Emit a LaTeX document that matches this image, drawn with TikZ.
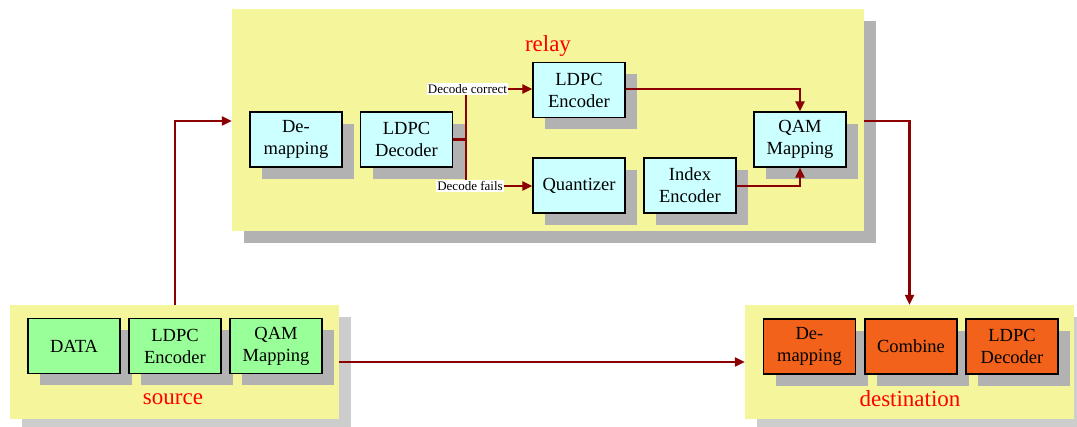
\documentclass[tikz,border=0pt]{standalone}
\usepackage{fontspec}
\setmainfont{Liberation Serif}
\usetikzlibrary{shadows,arrows.meta}
\definecolor{panelyellow}{RGB}{245,245,155}
\definecolor{panelshade}{RGB}{205,205,205}
\definecolor{boxshade}{RGB}{178,178,178}
\definecolor{relaycyan}{RGB}{204,255,255}
\definecolor{srcgreen}{RGB}{153,255,153}
\definecolor{dstorange}{RGB}{242,98,26}
\definecolor{linkred}{RGB}{139,0,0}
\tikzset{
  panel/.style={fill=panelyellow, draw=none, minimum width=#1, minimum height=114pt, inner sep=0pt,
    drop shadow={shadow xshift=12pt, shadow yshift=-12pt, fill=panelshade, opacity=1}},
  darkpanel/.style={fill=panelyellow, draw=none, minimum width=#1, minimum height=221.5pt, inner sep=0pt,
    drop shadow={shadow xshift=12pt, shadow yshift=-12pt, fill=boxshade, opacity=1}},
  blockbox/.style={draw=black, line width=1.2pt, fill=#1, minimum width=92pt, minimum height=55pt,
    align=center, inner sep=0pt, font=\fontsize{18.5}{22}\selectfont,
    drop shadow={shadow xshift=12pt, shadow yshift=-12pt, fill=boxshade, opacity=1}},
  title/.style={text=red, font=\fontsize{23}{26}\selectfont},
  link/.style={draw=linkred, line width=2.2pt, -{Triangle[length=10pt,width=9pt]}},
  plainlink/.style={draw=linkred, line width=2.2pt},
  tag/.style={fill=white, inner sep=1pt, font=\fontsize{13}{14}\selectfont}
}
\begin{document}
\begin{tikzpicture}[x=1pt,y=-1pt]
\useasboundingbox (0,0) rectangle (1077,427);
% panels
\node[darkpanel=632pt] (relay) at (548,120.25) {};
\node[panel=329pt] (src) at (174.5,362) {};
\node[panel=329pt] (dst) at (909.5,362) {};
\node[title] (relaytitle) at (548,46) {relay};
\node[title] (srctitle) at (173,399) {source};
\node[title] (dsttitle) at (910,399) {destination};
% relay blocks
\node[blockbox=relaycyan] (rdm) at (296,139.5) {De-\\mapping};
\node[blockbox=relaycyan] (rdec) at (406.5,139.5) {LDPC\\Decoder};
\node[blockbox=relaycyan] (renc) at (579,90) {LDPC\\Encoder};
\node[blockbox=relaycyan] (rq) at (579,185.5) {Quantizer};
\node[blockbox=relaycyan] (rie) at (690,185.5) {Index\\Encoder};
\node[blockbox=relaycyan] (rqam) at (800,139.5) {QAM\\Mapping};
% source blocks
\node[blockbox=srcgreen] (sdata) at (74,346) {DATA};
\node[blockbox=srcgreen] (senc) at (175,346) {LDPC\\Encoder};
\node[blockbox=srcgreen] (sqam) at (276,346) {QAM\\Mapping};
% destination blocks
\node[blockbox=dstorange] (ddm) at (809.5,346.5) {De-\\mapping};
\node[blockbox=dstorange] (dcomb) at (911,346.5) {Combine};
\node[blockbox=dstorange] (ddec) at (1012,346.5) {LDPC\\Decoder};
% branch after the relay decoder
\coordinate (fork) at (466,139.5);
\coordinate (forktop) at (466,89);
\coordinate (forkbot) at (466,186);
\draw[plainlink] (rdec.east) -- (fork);
\draw[plainlink] (forktop) -- (forkbot);
\node[tag] (ok) at (467.5,89) {Decode correct};
\node[tag] (fail) at (470,186) {Decode fails};
\draw[link] (ok.east) -- (ok.east -| renc.west);
\draw[link] (fail.east) -- (fail.east -| rq.west);
\draw[link] (renc.east |- ok.east) -| (rqam.north);
\draw[link] (rie.east |- fail.east) -| (rqam.south);
% links between the three stations
\coordinate (lvl) at (0,121);
\draw[link] (senc.north |- src.north) |- (relay.west |- lvl);
\draw[link] (relay.east |- lvl) -| (dst.north);
\draw[link] (src.east) -- (dst.west);
\end{tikzpicture}
\end{document}
